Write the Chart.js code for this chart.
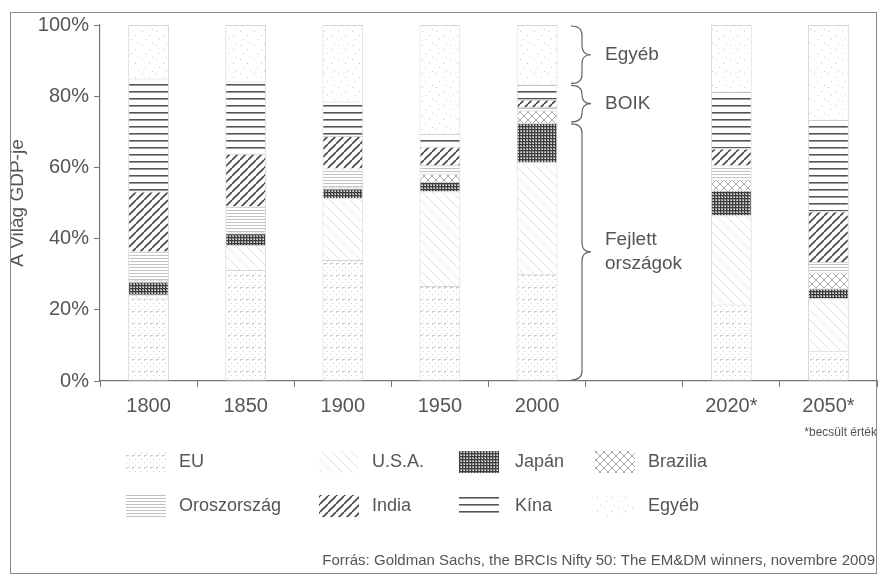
<!DOCTYPE html>
<html>
<head>
<meta charset="utf-8">
<script src="https://cdn.jsdelivr.net/npm/chart.js@4.4.1/dist/chart.umd.min.js"></script>
<style>
  html, body { margin: 0; padding: 0; background: #fff; }
  #wrap { position: relative; width: 879px; height: 575px; }
</style>
</head>
<body>
<div id="wrap"><canvas id="c" width="879" height="575"></canvas></div>
<script>
// Share of world GDP (%) by region, per year
const years   = ['1800', '1850', '1900', '1950', '2000', '', '2020*', '2050*'];
const eu      = [23.2, 31.2, 34.0, 26.7, 30.0, null, 21.5,  8.5];
const usa     = [ 1.0,  7.0, 17.3, 26.5, 31.5, null, 25.0, 14.7];
const japan   = [ 3.7,  3.3,  2.8,  2.8, 11.0, null,  7.0,  2.8];
const brazil  = [ 0.5,  0.3,  0.4,  2.3,  3.5, null,  3.0,  4.5];
const russia  = [ 8.0,  7.2,  5.2,  2.4,  1.0, null,  4.0,  2.9];
const india   = [16.8, 14.8,  9.1,  5.1,  2.0, null,  4.8, 14.2];
const china   = [31.8, 20.3,  9.7,  3.6,  4.3, null, 16.0, 25.8];
const other   = [15.0, 15.9, 21.5, 30.6, 16.7, null, 18.7, 26.6];

const seriesNames = ['EU', 'U.S.A.', 'Japán', 'Brazilia', 'Oroszország', 'India', 'Kína', 'Egyéb'];
const yTicks = [0, 20, 40, 60, 80, 100];
const braceYearIndex = 4; // the 2000 column is annotated
const braceGroups = [
  { lines: ['Egyéb'] },
  { lines: ['BOIK'] },
  { lines: ['Fejlett', 'országok'] }
];
const yTitle = 'A Világ GDP-je';
const footnote = '*becsült érték';
const sourceNote = 'Forrás: Goldman Sachs, the BRCIs Nifty 50: The EM&DM winners, novembre 2009';

const FONT = '"Liberation Sans", Arial, Helvetica, sans-serif';
const TEXT = '#555';

const canvas = document.getElementById('c');
const ctx = canvas.getContext('2d');

// ---- monochrome fill patterns ----
function tile(w, h, draw) {
  const c = document.createElement('canvas');
  c.width = w; c.height = h;
  const g = c.getContext('2d');
  g.fillStyle = '#fff';
  g.fillRect(0, 0, w, h);
  draw(g, w, h);
  return ctx.createPattern(c, 'repeat');
}
function px(g, x, y, col) { g.fillStyle = col; g.fillRect(x, y, 1, 1); }
function diag(g, w, h, col, lw, dir) {
  g.strokeStyle = col; g.lineWidth = lw;
  g.beginPath();
  for (let k = -1; k <= 1; k++) {
    if (dir > 0) { g.moveTo(k * w, h); g.lineTo(k * w + w, 0); }
    else { g.moveTo(k * w, 0); g.lineTo(k * w + w, h); }
  }
  g.stroke();
}

const patterns = [
  // EU: fine dot grid with dashed rows
  tile(6, 12, g => {
    px(g, 0, 0, '#d2d2d2'); px(g, 3, 3, '#d2d2d2'); px(g, 0, 6, '#d2d2d2'); px(g, 3, 9, '#d2d2d2');
    g.fillStyle = '#c8c8c8'; g.fillRect(0, 11, 3, 1);
  }),
  // U.S.A.: faint back-diagonals
  tile(10, 10, g => diag(g, 10, 10, '#e2e2e2', 1, -1)),
  // Japan: dense dark grid
  tile(3, 3, g => {
    g.fillStyle = '#3c3c3c'; g.fillRect(0, 0, 3, 1); g.fillRect(0, 0, 1, 3);
    g.fillStyle = '#9a9a9a'; g.fillRect(1, 1, 2, 2);
    g.fillStyle = '#e6e6e6'; g.fillRect(2, 2, 1, 1);
  }),
  // Brazil: cross-hatch diamonds
  tile(8, 8, g => { diag(g, 8, 8, '#a8a8a8', 1, 1); diag(g, 8, 8, '#a8a8a8', 1, -1); }),
  // Russia: fine light horizontal lines
  tile(2, 3, g => { g.fillStyle = '#c2c2c2'; g.fillRect(0, 0, 2, 1); }),
  // India: dark forward diagonals
  tile(8, 8, g => diag(g, 8, 8, '#4a4a4a', 1.7, 1)),
  // China: dark horizontal lines
  tile(2, 7, g => { g.fillStyle = '#555'; g.fillRect(0, 0, 2, 1); g.fillStyle = '#9a9a9a'; g.fillRect(0, 1, 2, 1); }),
  // Other: sparse speckle
  tile(14, 14, g => {
    px(g, 2, 3, '#c6c6c6'); px(g, 9, 7, '#c6c6c6'); px(g, 5, 11, '#cdcdcd'); px(g, 12, 1, '#cdcdcd');
  })
];

const seriesData = [eu, usa, japan, brazil, russia, india, china, other];

const datasets = seriesData.map((d, i) => ({
  label: seriesNames[i],
  data: d,
  backgroundColor: patterns[i],
  borderColor: '#d6d6d6',
  borderWidth: 1,
  barPercentage: 0.42,
  categoryPercentage: 1.0
}));

// curly brace pointing right
function brace(g, x, y1, y2, w) {
  const xm = x + w * 0.55;
  const ym = (y1 + y2) / 2;
  const r = Math.min(9, (y2 - y1) / 4);
  g.beginPath();
  g.moveTo(x, y1);
  g.quadraticCurveTo(xm, y1, xm, y1 + r);
  g.lineTo(xm, ym - r);
  g.quadraticCurveTo(xm, ym, x + w, ym);
  g.quadraticCurveTo(xm, ym, xm, ym + r);
  g.lineTo(xm, y2 - r);
  g.quadraticCurveTo(xm, y2, x, y2);
  g.stroke();
}

const decorations = {
  id: 'decorations',
  afterDraw(chart) {
    const g = chart.ctx;
    const y = chart.scales.y;
    g.save();

    // outer frame
    g.strokeStyle = '#8a8a8a';
    g.lineWidth = 1;
    g.strokeRect(10.5, 12.5, 866, 561);

    // braces beside the 2000 column
    const i = braceYearIndex;
    const developed = eu[i] + usa[i] + japan[i];
    const boik = developed + brazil[i] + russia[i] + india[i] + china[i];
    const spans = [[100, boik], [boik, developed], [developed, 0]];
    g.strokeStyle = '#666';
    g.lineWidth = 1.2;
    g.fillStyle = TEXT;
    g.font = '19px ' + FONT;
    g.textBaseline = 'middle';
    g.textAlign = 'left';
    spans.forEach((s, k) => {
      const top = y.getPixelForValue(s[0]) + 1;
      const bot = y.getPixelForValue(s[1]) - 1;
      brace(g, 571, top, bot, 20);
      const lines = braceGroups[k].lines;
      const mid = (top + bot) / 2;
      lines.forEach((t, j) => {
        g.fillText(t, 605, mid + (j - (lines.length - 1) / 2) * 24);
      });
    });

    // footnote under the x axis
    g.font = '12px ' + FONT;
    g.textAlign = 'right';
    g.fillText(footnote, 877, 433);

    // legend, two rows of four
    const swX = [126, 319, 459, 595];
    const txX = [179, 372, 515, 648];
    const rowY = [462, 506];
    g.font = '18px ' + FONT;
    g.textAlign = 'left';
    seriesNames.forEach((name, k) => {
      const col = k % 4, row = Math.floor(k / 4);
      g.fillStyle = patterns[k];
      g.fillRect(swX[col], rowY[row] - 11, 40, 22);
      g.fillStyle = TEXT;
      g.fillText(name, txX[col], rowY[row]);
    });

    // source line
    g.font = '15px ' + FONT;
    g.textAlign = 'right';
    g.fillText(sourceNote, 875, 561);
    g.restore();
  }
};

new Chart(canvas, {
  type: 'bar',
  data: { labels: years, datasets },
  options: {
    responsive: false,
    animation: false,
    events: [],
    layout: { padding: { top: 25, right: 2, left: 0, bottom: 0 } },
    plugins: { legend: { display: false }, tooltip: { enabled: false } },
    scales: {
      x: {
        stacked: true,
        grid: { display: true, drawOnChartArea: false, offset: true, tickLength: 6, color: '#777' },
        border: { color: '#777', width: 1.2 },
        ticks: { color: TEXT, font: { size: 20, family: FONT }, padding: 7, autoSkip: false, maxRotation: 0 },
        afterFit: s => { s.height = 575 - 381; }
      },
      y: {
        stacked: true,
        min: 0, max: 100,
        afterBuildTicks: s => { s.ticks = yTicks.map(v => ({ value: v })); },
        grid: { drawOnChartArea: false, tickLength: 6, color: '#777' },
        border: { color: '#777', width: 1.2 },
        ticks: { color: TEXT, font: { size: 20, family: FONT }, padding: 5, callback: v => v + '%' },
        title: { display: true, text: yTitle, color: TEXT, font: { size: 19, family: FONT }, padding: { top: 6, bottom: 0 } },
        afterFit: s => { s.width = 100; }
      }
    }
  },
  plugins: [decorations]
});
</script>
</body>
</html>
